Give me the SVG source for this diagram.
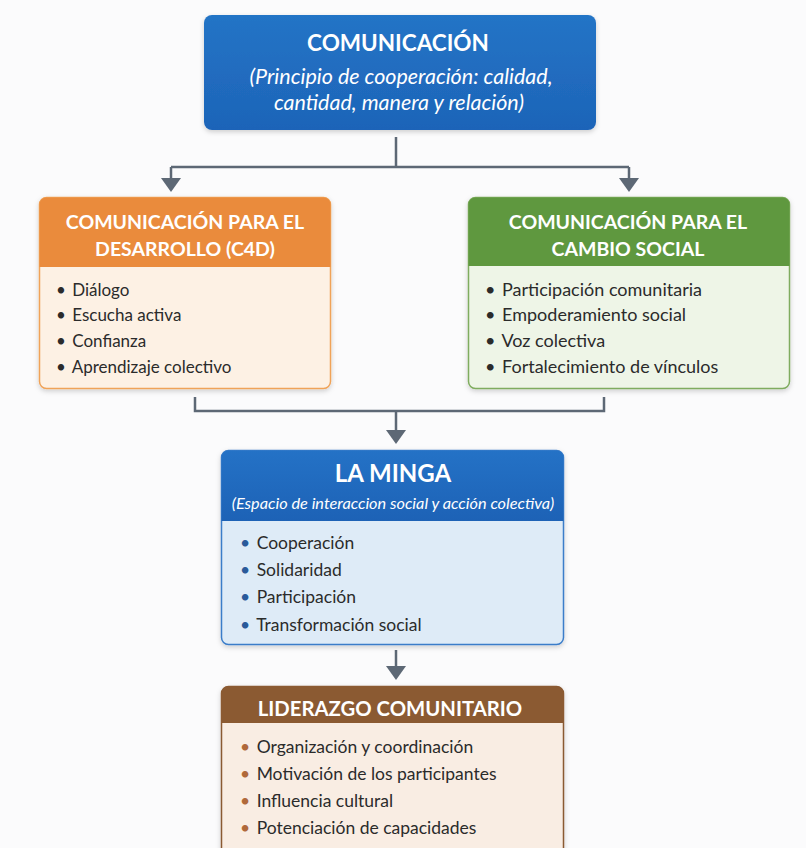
<svg xmlns="http://www.w3.org/2000/svg" width="806" height="848" viewBox="0 0 806 848">
<defs>
<filter id="sh" x="-10%" y="-10%" width="120%" height="130%">
<feDropShadow dx="0" dy="2" stdDeviation="2.5" flood-color="#000" flood-opacity="0.18"/>
</filter>
<linearGradient id="gTop" x1="0" y1="0" x2="0" y2="1"><stop offset="0" stop-color="#2474c6"/><stop offset="1" stop-color="#1d64b8"/></linearGradient>
<linearGradient id="gMin" x1="0" y1="0" x2="0" y2="1"><stop offset="0" stop-color="#2472c6"/><stop offset="1" stop-color="#1d62b6"/></linearGradient>
</defs>
<style>
text{font-family:Lato,"Open Sans","Liberation Sans",sans-serif}
.h{font-weight:bold;fill:#fff;text-anchor:middle}
.sub{font-style:italic;fill:#fff;text-anchor:middle}
.it{font-size:17.5px;fill:#2b2b2b}
.ln{fill:none;stroke:#5d6875;stroke-width:2.5}
.hd{fill:#5d6875}
</style>
<rect width="806" height="848" fill="#fbfbfc"/>
<g id="connectors">
<path class="ln" d="M396 137V167M171 167H629M171 167V180M629 167V180"/>
<polygon class="hd" points="161,178 181,178 171,192"/>
<polygon class="hd" points="619,178 639,178 629,192"/>
<path class="ln" d="M195 397V411H604V397M396 411V432"/>
<polygon class="hd" points="386,430 406,430 396,444"/>
<path class="ln" d="M396 650V668"/>
<polygon class="hd" points="386,666 406,666 396,680"/>
</g>
<g id="comunicacion">
<rect x="204" y="15" width="392" height="115" rx="8" fill="url(#gTop)" filter="url(#sh)"/>
<text class="h" x="398" y="51" font-size="22.5">COMUNICACIÓN</text>
<text class="sub" x="401" y="84" font-size="21.5">(Principio de cooperación: calidad,</text>
<text class="sub" x="399" y="110" font-size="21.5">cantidad, manera y relación)</text>
</g>
<g id="c4d">
<rect x="39.5" y="197.5" width="291" height="191" rx="7" fill="#fdf1e4" stroke="#f0a358" stroke-width="1.5" filter="url(#sh)"/>
<path d="M39.5 267V204.5a7 7 0 0 1 7-7H323.5a7 7 0 0 1 7 7V267Z" fill="#ea8b3c"/>
<text class="h" x="185" y="229" font-size="19.5">COMUNICACIÓN PARA EL</text>
<text class="h" x="185" y="256" font-size="19.5">DESARROLLO (C4D)</text>
<g class="it" style="font-size:17px">
<text x="56" y="296">• <tspan dx="2">Diálogo</tspan></text>
<text x="56" y="321">• <tspan dx="2">Escucha activa</tspan></text>
<text x="56" y="347">• <tspan dx="2">Confianza</tspan></text>
<text x="56" y="373">• <tspan dx="2">Aprendizaje colectivo</tspan></text>
</g>
</g>
<g id="cambio">
<rect x="468.5" y="197.5" width="321" height="191" rx="7" fill="#eef5e7" stroke="#7fac5e" stroke-width="1.5" filter="url(#sh)"/>
<path d="M468.5 266V204.5a7 7 0 0 1 7-7H782.5a7 7 0 0 1 7 7V266Z" fill="#5f983f"/>
<text class="h" x="628" y="229" font-size="19.5">COMUNICACIÓN PARA EL</text>
<text class="h" x="628" y="256" font-size="19.5">CAMBIO SOCIAL</text>
<g class="it" style="font-size:18px">
<text x="485" y="296">• <tspan dx="2">Participación comunitaria</tspan></text>
<text x="485" y="321">• <tspan dx="2">Empoderamiento social</tspan></text>
<text x="485" y="347">• <tspan dx="2">Voz colectiva</tspan></text>
<text x="485" y="373">• <tspan dx="2">Fortalecimiento de vínculos</tspan></text>
</g>
</g>
<g id="minga">
<rect x="221.5" y="450.5" width="342" height="194" rx="7" fill="#deebf7" stroke="#3b7dc9" stroke-width="1.5" filter="url(#sh)"/>
<path d="M221.5 521V457.5a7 7 0 0 1 7-7H556.5a7 7 0 0 1 7 7V521Z" fill="url(#gMin)"/>
<text class="h" x="393" y="482" font-size="24">LA MINGA</text>
<text class="sub" x="393" y="509" font-size="16.3">(Espacio de interaccion social y acción colectiva)</text>
<g class="it" fill="#223049">
<text x="240" y="549"><tspan fill="#2a5a9a">•</tspan> <tspan dx="2">Cooperación</tspan></text>
<text x="240" y="576"><tspan fill="#2a5a9a">•</tspan> <tspan dx="2">Solidaridad</tspan></text>
<text x="240" y="603"><tspan fill="#2a5a9a">•</tspan> <tspan dx="2">Participación</tspan></text>
<text x="240" y="631"><tspan fill="#2a5a9a">•</tspan> <tspan dx="2">Transformación social</tspan></text>
</g>
</g>
<g id="liderazgo">
<rect x="221.5" y="686.5" width="342" height="170" rx="7" fill="#f9ede3" stroke="#8a5a33" stroke-width="1.5" filter="url(#sh)"/>
<path d="M221.5 723V693.5a7 7 0 0 1 7-7H556.5a7 7 0 0 1 7 7V723Z" fill="#8b5a32"/>
<text class="h" x="390" y="716" font-size="20.3">LIDERAZGO COMUNITARIO</text>
<g class="it">
<text x="240" y="753"><tspan fill="#b0693a">•</tspan> <tspan dx="2">Organización y coordinación</tspan></text>
<text x="240" y="780"><tspan fill="#b0693a">•</tspan> <tspan dx="2">Motivación de los participantes</tspan></text>
<text x="240" y="807"><tspan fill="#b0693a">•</tspan> <tspan dx="2">Influencia cultural</tspan></text>
<text x="240" y="834"><tspan fill="#b0693a">•</tspan> <tspan dx="2">Potenciación de capacidades</tspan></text>
</g>
</g>
</svg>
